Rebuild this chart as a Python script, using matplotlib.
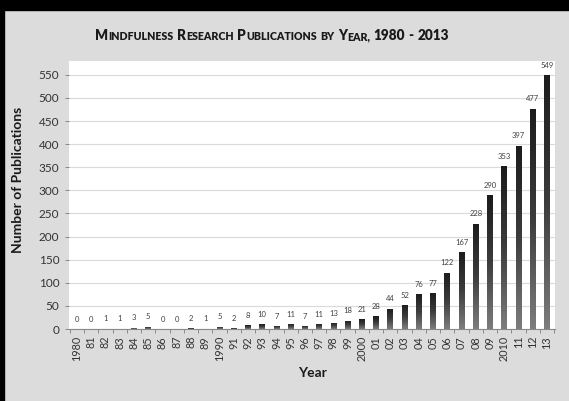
import numpy as np
import matplotlib
matplotlib.use("Agg")
import matplotlib.pyplot as plt
from matplotlib.patches import Rectangle
from matplotlib.colors import LinearSegmentedColormap

plt.rcParams['font.family'] = ['Lato', 'DejaVu Sans']

# publications per year, 1980 - 2013
years = list(range(1980, 2014))
counts = [0, 0, 1, 1, 3, 5, 0, 0, 2, 1,
          5, 2, 8, 10, 7, 11, 7, 11, 13, 18,
          21, 28, 44, 52, 76, 77, 122, 167, 228, 290,
          353, 397, 477, 549]
year_labels = ['1980', '81', '82', '83', '84', '85', '86', '87', '88', '89',
               '1990', '91', '92', '93', '94', '95', '96', '97', '98', '99',
               '2000', '01', '02', '03', '04', '05', '06', '07', '08', '09',
               '2010', '11', '12', '13']
y_ticks = list(range(0, 551, 50))

W, H = 569, 401
fig = plt.figure(figsize=(W / 100, H / 100), dpi=100, facecolor='#dcdcdc')

# black frame strips along top and left edge
fig.patches.append(Rectangle((0, 1 - 10 / H), 1, 10 / H, transform=fig.transFigure,
                             color='black', zorder=0))
fig.patches.append(Rectangle((0, 0), 4 / W, 1, transform=fig.transFigure,
                             color='black', zorder=0))

ax = fig.add_axes([69 / W, 72 / H, (555 - 69) / W, (340 - 72) / H])
ax.set_facecolor('white')

x = np.arange(len(counts))
bw = 0.4
bars = ax.bar(x, counts, width=bw, color='#3a3a3a', edgecolor='none', zorder=2)

# vertical shading in each bar: dark top, grey bottom
shade = LinearSegmentedColormap.from_list('shade', ['#7c7c7c', '#3c3c3c', '#1c1c1c'])
grad = np.linspace(0, 1, 64).reshape(-1, 1)
for xi, val, bar in zip(x, counts, bars):
    if val <= 0:
        continue
    im = ax.imshow(grad, cmap=shade, origin='lower', aspect='auto',
                   extent=(xi - bw / 2, xi + bw / 2, 0, val), zorder=3,
                   interpolation='bilinear')
    im.set_clip_path(bar)

for xi, val in zip(x, counts):
    ax.annotate(str(val), (xi, val), xytext=(0, 7), textcoords='offset points',
                ha='center', va='center', fontsize=5.5, color='#404040', zorder=4)

ax.set_xlim(-0.56, len(counts) - 0.44)
ax.set_ylim(0, 580)

ax.set_yticks(y_ticks)
ax.set_yticklabels([str(v) for v in y_ticks], fontsize=8.5, color='#333333')
ax.yaxis.grid(True, color='#dadada', linewidth=0.8, zorder=0)
ax.set_axisbelow(True)

ax.set_xticks(x)
ax.set_xticklabels(year_labels, rotation=90, fontsize=7.8, color='#333333')
ax.set_xticks(np.arange(-0.5, len(counts), 1), minor=True)
ax.tick_params(axis='x', which='major', length=0, pad=5)
ax.tick_params(axis='x', which='minor', length=3, color='#8a8a8a', width=0.7)
ax.tick_params(axis='y', length=3, color='#8a8a8a', width=0.7, pad=4)

for side in ('top', 'right', 'left'):
    ax.spines[side].set_visible(False)
ax.spines['bottom'].set_color('#8a8a8a')
ax.spines['bottom'].set_linewidth(0.8)

fig.text(18 / W, 1 - 180 / H, 'Number of Publications', rotation=90, ha='center',
         va='center', fontsize=10, fontweight='bold', color='#1a1a1a')
fig.text(312 / W, 1 - 373 / H, 'Year', ha='center', va='center',
         fontsize=10, fontweight='bold', color='#1a1a1a')

# title in small caps, built from pieces of two sizes
big, small = 9.8, 7.7
title_words = [[('M', big), ('INDFULNESS', small)],
               [('R', big), ('ESEARCH', small)],
               [('P', big), ('UBLICATIONS', small)],
               [('BY', small)],
               [('Y', big), ('EAR,', small)],
               [('1980', big)], [('-', big)], [('2013', big)]]
renderer = fig.canvas.get_renderer()
base_y = 1 - 40 / H
space = big * 100 / 72 * 0.26
pieces = []
cursor = 0.0
for word in title_words:
    for s, size in word:
        t = fig.text(0, base_y, s, fontsize=size, fontweight='heavy', color='#1a1a1a',
                     ha='left', va='baseline')
        w = t.get_window_extent(renderer).width
        pieces.append((t, cursor))
        cursor += w
    cursor += space
total = cursor - space
start = 272 - total / 2
for t, off in pieces:
    t.set_x((start + off) / W)

fig.savefig('out.png', dpi=100, facecolor=fig.get_facecolor())
